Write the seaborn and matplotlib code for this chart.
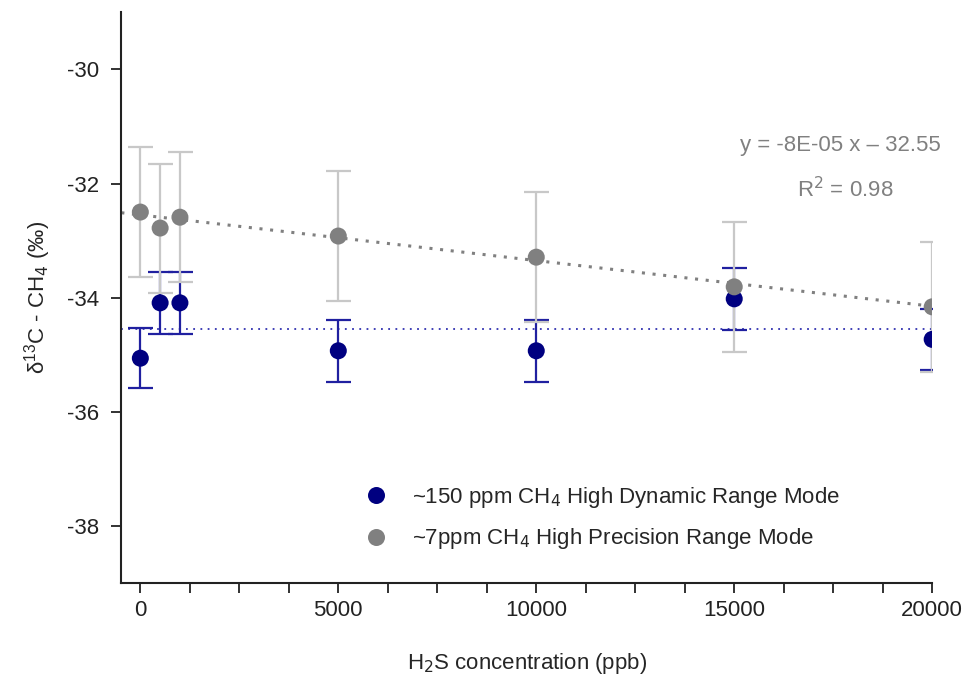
import numpy as np
import pandas as pd
import seaborn as sns
import matplotlib.pyplot as plt
from matplotlib.ticker import MultipleLocator

# H2S concentration (ppb)
h2s = [0, 500, 1000, 5000, 10000, 15000, 20000]

# delta13C values
hdr_vals = [-35.06, -34.09, -34.09, -34.93, -34.93, -34.02, -34.73]
hdr_err = [0.53, 0.54, 0.54, 0.54, 0.54, 0.54, 0.54]
hp_vals = [-32.50, -32.78, -32.59, -32.92, -33.29, -33.81, -34.16]
hp_err = [1.14, 1.13, 1.14, 1.14, 1.14, 1.14, 1.14]

hdr_label = '~150 ppm CH$_4$ High Dynamic Range Mode'
hp_label = '~7ppm CH$_4$ High Precision Range Mode'

# fit shown on chart
slope, intercept, r2 = -8e-05, -32.55, 0.98

df = pd.DataFrame({
    'h2s': h2s * 2,
    'd13c': hdr_vals + hp_vals,
    'err': hdr_err + hp_err,
    'mode': [hdr_label] * len(h2s) + [hp_label] * len(h2s),
})

sns.set_style('ticks')
plt.rcParams['font.family'] = ['Liberation Sans', 'DejaVu Sans']
plt.rcParams['axes.unicode_minus'] = False

navy = '#000080'
grey = '#808080'
W, H = 963, 682

fig = plt.figure(figsize=(9.63, 6.82), dpi=100)
ax = fig.add_axes([0.126, 0.145, 0.842, 0.837])

xmin, xmax = -480, 20000

# trend lines
xs = np.array([xmin, xmax])
ax.plot(xs, [np.mean(hdr_vals)] * 2, color='#3030b0', lw=1.3, ls=(0, (1, 3)), zorder=1)
ax.plot(xs, slope * xs + intercept, color=grey, lw=2.2, ls=(0, (1, 2.5)), zorder=1)

# error bars
ax.errorbar(h2s, hdr_vals, yerr=hdr_err, fmt='none', ecolor='#2020a0',
            elinewidth=1.6, capsize=9, capthick=1.6, zorder=2)
ax.errorbar(h2s, hp_vals, yerr=hp_err, fmt='none', ecolor='#c8c8c8',
            elinewidth=1.6, capsize=9, capthick=1.6, zorder=3)

sns.scatterplot(data=df, x='h2s', y='d13c', hue='mode', palette=[navy, grey],
                s=150, edgecolor='none', ax=ax, zorder=4)

fig.text(840 / W, 1 - 146 / H, 'y = -8E-05 x \u2013 32.55', color=grey,
         fontsize=16, ha='center', va='center')
fig.text(845 / W, 1 - 190 / H, 'R$^2$ = %.2f' % r2, color=grey,
         fontsize=16, ha='center', va='center')

ax.set_xlim(xmin, xmax)
ax.set_ylim(-39, -29)
ax.xaxis.set_major_locator(MultipleLocator(5000))
ax.xaxis.set_minor_locator(MultipleLocator(1250))
ax.set_yticks([-38, -36, -34, -32, -30])
ax.tick_params(axis='both', which='both', direction='out', length=7, width=1.3,
               labelsize=16, colors='#222222')
ax.tick_params(axis='x', pad=5)
ax.tick_params(axis='y', pad=9)

for side in ['top', 'right']:
    ax.spines[side].set_visible(False)
for side in ['left', 'bottom']:
    ax.spines[side].set_linewidth(1.5)
    ax.spines[side].set_color('#222222')

ax.set_xlabel('H$_2$S concentration (ppb)', fontsize=16, labelpad=22)
ax.set_ylabel(r'$\mathregular{\delta^{13}}$C - CH$_4$ (‰)', fontsize=16, labelpad=10)

handles, labels = ax.get_legend_handles_labels()
ax.legend(handles, labels, loc='center left',
          bbox_to_anchor=(345 / W, 1 - 518 / H), bbox_transform=fig.transFigure,
          frameon=False, fontsize=16, labelspacing=0.75, handletextpad=0.6,
          borderaxespad=0)

fig.savefig('out.png', dpi=100)
